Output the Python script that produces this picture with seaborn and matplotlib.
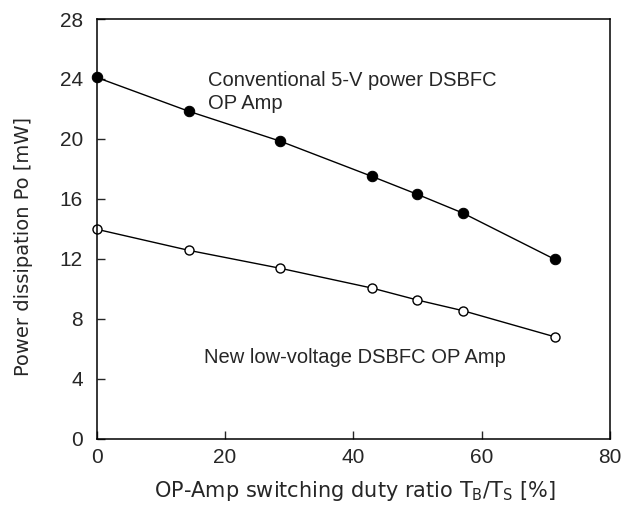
import matplotlib
matplotlib.use("Agg")
import matplotlib.pyplot as plt
import seaborn as sns
import pandas as pd

duty = [0, 14.3, 28.6, 42.9, 50.0, 57.1, 71.4]
conv_power = [24.1, 21.85, 19.85, 17.5, 16.3, 15.05, 11.97]
new_power = [13.97, 12.57, 11.37, 10.05, 9.25, 8.54, 6.8]
xticks = [0, 20, 40, 60, 80]
yticks = [0, 4, 8, 12, 16, 20, 24, 28]

sns.set_style("ticks")
plt.rcParams['font.family'] = ['Liberation Sans', 'DejaVu Sans']

df = pd.DataFrame({"duty": duty + duty,
                   "power": conv_power + new_power,
                   "series": ["conv"] * len(duty) + ["new"] * len(duty)})

fig = plt.figure(figsize=(6.21, 5.14), dpi=100)
ax = fig.add_axes([0.156, 0.1465, 0.826, 0.8165])

sns.lineplot(data=df[df.series == "conv"], x="duty", y="power", ax=ax,
             color="black", lw=1.0, marker="o", markersize=7.5,
             markerfacecolor="black", markeredgecolor="black", clip_on=False)
sns.lineplot(data=df[df.series == "new"], x="duty", y="power", ax=ax,
             color="black", lw=1.0, marker="o", markersize=6.5,
             markerfacecolor="white", markeredgecolor="black",
             markeredgewidth=1.0, clip_on=False)

ax.set_xlim(0, 80)
ax.set_ylim(0, 28)
ax.set_xticks(xticks)
ax.set_yticks(yticks)
ax.tick_params(axis="y", direction="in", length=6, width=1, labelsize=15, pad=10)
ax.tick_params(axis="x", direction="in", length=6, width=1, labelsize=15, pad=7)
for s in ax.spines.values():
    s.set_linewidth(1.1)
    s.set_color("black")

ax.set_xlabel(r"OP-Amp switching duty ratio T$\mathregular{_B}$/T$\mathregular{_S}$ [%]",
              fontsize=15, family="DejaVu Sans")
ax.set_ylabel("Power dissipation Po [mW]", fontsize=14, family="DejaVu Sans")
ax.xaxis.set_label_coords(0.503, -0.095)
ax.yaxis.set_label_coords(-0.125, 0.457)

ax.text(17.3, 23.9, "Conventional 5-V power DSBFC", fontsize=14.5,
        va="center", ha="left")
ax.text(17.3, 22.36, "OP Amp", fontsize=14.5, va="center", ha="left")
ax.text(16.7, 5.4, "New low-voltage DSBFC OP Amp", fontsize=14.5,
        va="center", ha="left")

fig.savefig("out.png", dpi=100)
